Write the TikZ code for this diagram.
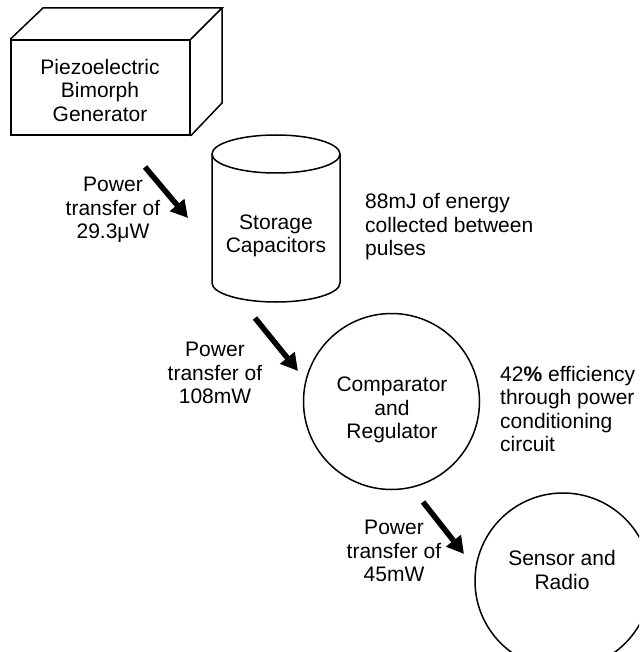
\documentclass[tikz,border=0pt]{standalone}
\usepackage{fontspec}
\setmainfont{Liberation Sans}
\usetikzlibrary{arrows.meta}
\tikzset{
  shape line/.style={line width=1.5pt, draw=black},
  lbl/.style={font=\fontsize{21}{23.5}\selectfont, inner sep=0pt, align=center},
  lbll/.style={font=\fontsize{21}{23.5}\selectfont, inner sep=0pt, align=left, anchor=west},
  flow/.style={line width=5.5pt, -{Triangle[length=17pt,width=18pt]}},
}
\begin{document}
\begin{tikzpicture}[x=1pt,y=-1pt]
\useasboundingbox (0,0) rectangle (639,652);
\clip (0,0) rectangle (639,652);
% Generator cuboid
\node[shape line, minimum width=179pt, minimum height=95pt, inner sep=0pt] (gen) at (100.5,87.5) {};
\coordinate (btl) at (43,8);
\coordinate (btr) at (222,8);
\coordinate (bbr) at (222,103);
\draw[shape line, line join=miter] (gen.north west) -- (btl) -- (btr) -- (gen.north east);
\draw[shape line, line join=miter] (btr) -- (bbr) -- (gen.south east);
\node[lbl] (gentxt) at (100,90) {Piezoelectric\\Bimorph\\Generator};
% Storage cylinder
\coordinate (cyltop) at (276,154);
\coordinate (cylbot) at (276,283);
\draw[shape line] (212,154) -- (212,283) arc[start angle=180, end angle=360, x radius=64pt, y radius=19pt] -- (340,154);
\draw[shape line] (cyltop) ellipse[x radius=64pt, y radius=19pt];
\node[lbl] (cap) at (276,236) {Storage\\Capacitors};
% Comparator circle
\node[shape line, circle, minimum size=176pt, inner sep=0pt] (comp) at (391.5,401.5) {};
\node[lbl] (comptxt) at (392,410) {Comparator\\and\\Regulator};
% Sensor circle
\node[shape line, circle, minimum size=176pt, inner sep=0pt] (sens) at (563,581) {};
\node[lbl] (senstxt) at (562,570) {Sensor and\\Radio};
% arrows
\coordinate (a1s) at (145,167);
\coordinate (a1e) at (188,218);
\coordinate (a2s) at (255,318);
\coordinate (a2e) at (298,371);
\coordinate (a3s) at (423,502);
\coordinate (a3e) at (464,554);
\draw[flow] (a1s) -- (a1e);
\draw[flow] (a2s) -- (a2e);
\draw[flow] (a3s) -- (a3e);
% labels
\node[lbl] (p1) at (113,210) {Power\\transfer of\\29.3μW};
\node[lbl] (p2) at (215,373) {Power\\transfer of\\108mW};
\node[lbl] (p3) at (394,551) {Power\\transfer of\\45mW};
\node[lbll] (energy) at (365,227) {88mJ of energy\\collected between\\pulses};
\node[lbll] (eff) at (500,409) {42\textbf{\%} efficiency\\through power\\conditioning\\circuit};
\end{tikzpicture}
\end{document}
